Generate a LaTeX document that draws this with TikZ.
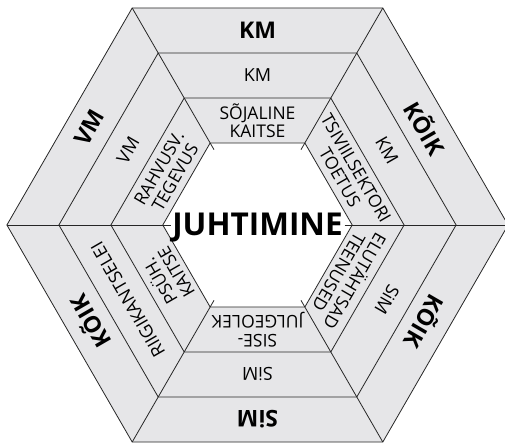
\documentclass[tikz,border=0pt]{standalone}
\usepackage{fontspec}
\setmainfont{Open Sans}
\usepackage{tikz}
\usepackage{xcolor}
\definecolor{bandgray}{RGB}{230,230,232}

\begin{document}
\begin{tikzpicture}[x=1pt,y=1pt,
  ring/.style={draw=black!85,line width=0.8pt},
  outerlbl/.style={font=\fontsize{23}{24}\selectfont\bfseries,inner sep=0pt},
  midlbl/.style={font=\fontsize{18}{19}\selectfont,inner sep=0pt},
  innerlbl/.style={font=\fontsize{17.5}{18.5}\selectfont,align=center,inner sep=0pt}]
\useasboundingbox (-257.5,-218) rectangle (247.5,225);
\fill[bandgray] (0:250.6) -- (60:250.6) -- (120:250.6) -- (180:250.6) -- (240:250.6) -- (300:250.6) -- cycle;
\fill[white] (0:94.7) -- (60:94.7) -- (120:94.7) -- (180:94.7) -- (240:94.7) -- (300:94.7) -- cycle;
\foreach \r in {250.6,198.6,146.6,94.7}
  \draw[ring] (0:\r) -- (60:\r) -- (120:\r) -- (180:\r) -- (240:\r) -- (300:\r) -- cycle;
\foreach \a in {0,60,...,300}
  \draw[ring] (\a:87) -- (\a:250.6);
% outer band
\foreach \a/\t [count=\i] in {90/KM,30/KÕIK,-30/KÕIK,-90/SiM,-150/KÕIK,150/VM}
  \node[outerlbl,rotate=\a-90] (out\i) at (\a:194.5) {\t};
% middle band
\foreach \a/\t [count=\i] in {90/KM,30/KM,-30/SiM,-90/SiM,-150/RIIGIKANTSELEI,150/VM}
  \node[midlbl,rotate=\a-90] (mid\i) at (\a:149.5) {\t};
% inner band
\foreach \a/\t [count=\i] in {{90/SÕJALINE\\KAITSE},{30/TSIVIILSEKTORI\\TOETUS},
    {-30/ELUTÄHTSAD\\TEENUSED},{-90/SISE-\\JULGEOLEK},{-150/PSÜH.\\KAITSE},
    {150/RAHVUSV.\\TEGEVUS}}
  \node[innerlbl,rotate=\a-90] (in\i) at (\a:104.5) {\t};
\node[font=\fontsize{31.5}{33}\selectfont\bfseries] (juht) at (0,-3) {JUHTIMINE};
\end{tikzpicture}
\end{document}
